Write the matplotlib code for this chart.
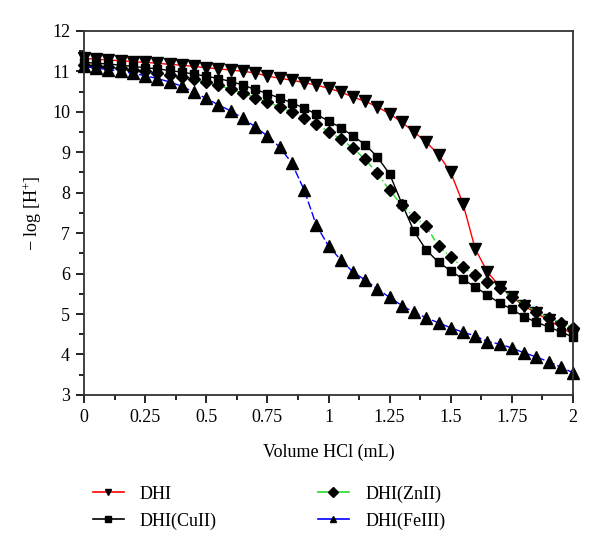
import matplotlib
matplotlib.use("Agg")
import matplotlib.pyplot as plt
from matplotlib.lines import Line2D
from matplotlib.ticker import MultipleLocator, FuncFormatter

plt.rcParams['font.family'] = ['Liberation Serif', 'DejaVu Serif']
plt.rcParams['mathtext.fontset'] = 'custom'
plt.rcParams['mathtext.rm'] = 'Liberation Serif'
plt.rcParams['mathtext.it'] = 'Liberation Serif:italic'

volume = [0.00, 0.05, 0.10, 0.15, 0.20, 0.25, 0.30, 0.35, 0.40, 0.45,
          0.50, 0.55, 0.60, 0.65, 0.70, 0.75, 0.80, 0.85, 0.90, 0.95,
          1.00, 1.05, 1.10, 1.15, 1.20, 1.25, 1.30, 1.35, 1.40, 1.45,
          1.50, 1.55, 1.60, 1.65, 1.70, 1.75, 1.80, 1.85, 1.90, 1.95, 2.00]

dhi = [11.32, 11.30, 11.28, 11.26, 11.24, 11.22, 11.20, 11.17, 11.15, 11.12,
       11.09, 11.06, 11.03, 11.00, 10.96, 10.88, 10.83, 10.78, 10.72, 10.66,
       10.58, 10.49, 10.36, 10.26, 10.12, 9.95, 9.74, 9.50, 9.25, 8.94,
       8.50, 7.73, 6.61, 6.04, 5.68, 5.42, 5.20, 5.02, 4.85, 4.68, 4.50]

dhi_cu = [11.22, 11.20, 11.18, 11.15, 11.12, 11.09, 11.06, 11.02, 10.98, 10.93,
          10.88, 10.82, 10.75, 10.66, 10.55, 10.45, 10.34, 10.22, 10.09, 9.94,
          9.77, 9.61, 9.40, 9.19, 8.88, 8.46, 7.73, 7.04, 6.58, 6.28,
          6.07, 5.86, 5.67, 5.47, 5.27, 5.12, 4.93, 4.80, 4.68, 4.56, 4.43]

dhi_zn = [11.15, 11.13, 11.10, 11.07, 11.04, 11.00, 10.96, 10.92, 10.86, 10.80,
          10.73, 10.65, 10.56, 10.46, 10.35, 10.24, 10.12, 9.99, 9.85, 9.69,
          9.51, 9.33, 9.10, 8.82, 8.48, 8.06, 7.69, 7.40, 7.17, 6.67,
          6.41, 6.15, 5.96, 5.80, 5.64, 5.43, 5.23, 5.06, 4.91, 4.78, 4.66]

dhi_fe = [11.12, 11.08, 11.04, 11.00, 10.95, 10.89, 10.82, 10.74, 10.63, 10.48,
          10.33, 10.17, 10.02, 9.84, 9.63, 9.40, 9.13, 8.73, 8.07, 7.20,
          6.68, 6.34, 6.04, 5.84, 5.62, 5.41, 5.21, 5.04, 4.91, 4.78,
          4.66, 4.55, 4.46, 4.32, 4.26, 4.16, 4.04, 3.94, 3.82, 3.69, 3.55]

labels = ['DHI', 'DHI(CuII)', 'DHI(ZnII)', 'DHI(FeIII)']
colors = ['red', 'black', '#22dd22', 'blue']
markers = ['v', 's', 'D', '^']

fig = plt.figure(figsize=(6, 5.41), dpi=100)
ax = fig.add_axes([0.14, 0.27, 0.815, 0.673])

ax.plot(volume, dhi, color=colors[0], lw=1, marker='v', ms=8, mfc='black', mec='black',
        clip_on=False)
ax.plot(volume, dhi_cu, color=colors[1], lw=1, marker='s', ms=6, mfc='black', mec='black',
        clip_on=False)
ax.plot(volume, dhi_zn, color=colors[2], lw=1, ls=(0, (5, 2, 1, 2)), marker='D', ms=6,
        mfc='black', mec='black', clip_on=False)
ax.plot(volume, dhi_fe, color=colors[3], lw=1, ls=(0, (6, 2)), marker='^', ms=8,
        mfc='black', mec='black', clip_on=False)

ax.set_xlim(0, 2)
ax.set_ylim(3, 12)
ax.xaxis.set_major_locator(MultipleLocator(0.25))
ax.xaxis.set_minor_locator(MultipleLocator(0.125))
ax.yaxis.set_major_locator(MultipleLocator(1))
ax.yaxis.set_minor_locator(MultipleLocator(0.5))
ax.xaxis.set_major_formatter(FuncFormatter(lambda v, p: '%g' % v))
ax.tick_params(which='both', direction='out', top=False, right=False,
               labelsize=13, width=1.2)
ax.tick_params(which='major', length=6, pad=4)
ax.tick_params(which='minor', length=3.5)
for s in ax.spines.values():
    s.set_linewidth(1.3)
    s.set_color('#333333')

ax.set_xlabel('Volume HCl (mL)', fontsize=13, labelpad=13)
ax.set_ylabel(r'$-$ log [H$^{+}$]', fontsize=13, labelpad=6)

handles = [Line2D([], [], color=c, lw=1.2, marker=m, ms=5, mfc='black', mec='black')
           for c, m in zip(colors, markers)]
fig.legend(handles, labels, loc='upper left', bbox_to_anchor=(0.128, 0.133), ncol=2,
           frameon=False, fontsize=13, handlelength=1.7, handletextpad=0.9,
           columnspacing=5.6, labelspacing=0.55)

fig.savefig('out.png', dpi=100)
